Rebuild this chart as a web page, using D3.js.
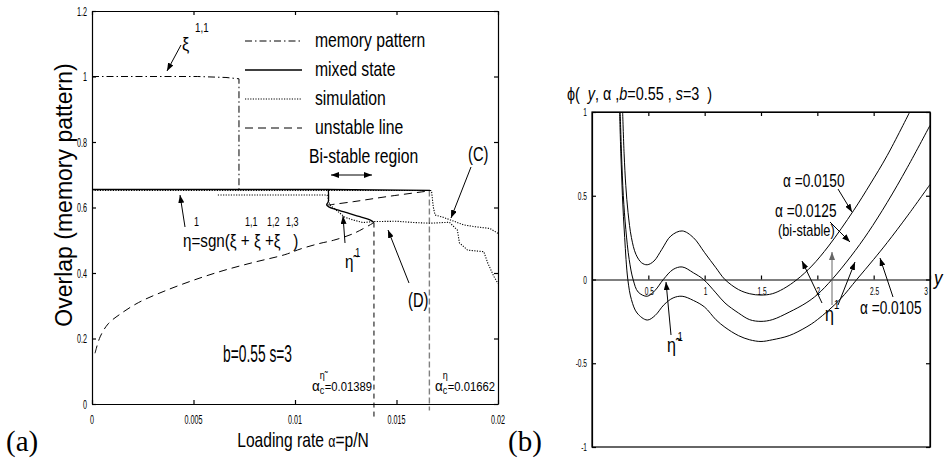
<!DOCTYPE html>
<html>
<head>
<meta charset="utf-8">
<script src="https://cdn.jsdelivr.net/npm/d3@7"></script>
<style>
  body { margin: 0; background: #fff; }
  svg text { font-family: "Liberation Sans", Arial, sans-serif; fill: #000; }
</style>
</head>
<body>
<svg id="fig" width="944" height="470"></svg>
<script>
// ---- panel (a): overlap vs loading rate ----
const alphaTicks = [0, 0.005, 0.01, 0.015, 0.02];
const alphaTickLabels = ["0", "0.005", "0.01", "0.015", "0.02"];
const overlapTicks = [0, 0.2, 0.4, 0.6, 0.8, 1, 1.2];
const overlapTickLabels = ["0", "0.2", "0.4", "0.6", "0.8", "1", "1.2"];

// [alpha, overlap]
const memoryPattern = [[0, 1.0], [0.0052, 1.0], [0.0066, 0.997], [0.00724, 0.993], [0.00724, 0.655]];
const mixedState = [[0, 0.655], [0.0116, 0.655], [0.01665, 0.652]];
const mixedStateTilde = [[0.01164, 0.655], [0.01164, 0.618], [0.01156, 0.608], [0.01169, 0.601], [0.01197, 0.595],
  [0.01255, 0.584], [0.0132, 0.572], [0.01369, 0.562], [0.01389, 0.554]];
const unstableLower = [[0.00015, 0.155], [0.0004, 0.205], [0.0008, 0.245], [0.0014, 0.275], [0.0023, 0.31],
  [0.0035, 0.343], [0.005, 0.378], [0.0065, 0.408], [0.008, 0.433], [0.0095, 0.456], [0.0103, 0.474],
  [0.0112, 0.49], [0.0119, 0.5], [0.0129, 0.521], [0.01389, 0.554]];
const unstableUpper = [[0.01156, 0.607], [0.0129, 0.618], [0.0145, 0.633], [0.01665, 0.651]];
const simulationA = [[0, 0.652], [0.0167, 0.652], [0.01673, 0.648], [0.01681, 0.602], [0.0169, 0.577],
  [0.0173, 0.57], [0.0177, 0.561], [0.0183, 0.547], [0.0189, 0.541], [0.0196, 0.536], [0.02, 0.521]];
const simulationB = [[0.0062, 0.638], [0.01158, 0.638], [0.01172, 0.608], [0.01246, 0.57], [0.01286, 0.562],
  [0.01335, 0.554], [0.01384, 0.557], [0.0150, 0.558], [0.0159, 0.554], [0.01665, 0.552], [0.0176, 0.555],
  [0.0180, 0.531], [0.0181, 0.492], [0.0185, 0.47], [0.0193, 0.465], [0.0195, 0.43], [0.0198, 0.389], [0.02, 0.368]];
const criticalAlpha = [0.01389, 0.01662];
const criticalTop = [0.554, 0.652];

// ---- panel (b): phi(y) for three loading rates ----
const yTicks = [0.5, 1, 1.5, 2, 2.5, 3];
const yTickLabels = ["0.5", "1", "1.5", "2", "2.5", "3"];
const phiTicks = [-1, -0.5, 0, 0.5, 1];
const phiTickLabels = ["-1", "-0.5", "0", "0.5", "1"];

// [y, phi]
const phi0150 = [[0.272, 1.0], [0.285, 0.75], [0.30, 0.56], [0.32, 0.4], [0.35, 0.25], [0.39, 0.15], [0.44, 0.1],
  [0.49, 0.088], [0.55, 0.11], [0.62, 0.18], [0.7, 0.26], [0.8, 0.29], [0.9, 0.25], [1.0, 0.16], [1.1, 0.07],
  [1.18, 0.0], [1.3, -0.06], [1.4, -0.085], [1.5, -0.093], [1.6, -0.085], [1.7, -0.055], [1.82, 0.0],
  [1.95, 0.08], [2.1, 0.2], [2.32, 0.41], [2.47, 0.57], [2.62, 0.74], [2.82, 1.0]];
const phi0125 = [[0.25, 1.0], [0.262, 0.75], [0.278, 0.5], [0.3, 0.3], [0.33, 0.12], [0.365, 0.0], [0.41, -0.075],
  [0.49, -0.1], [0.56, -0.065], [0.633, 0.0], [0.72, 0.06], [0.8, 0.075], [0.9, 0.04], [0.99, 0.0], [1.1, -0.08],
  [1.18, -0.14], [1.3, -0.2], [1.4, -0.24], [1.5, -0.25], [1.6, -0.24], [1.75, -0.195], [1.9, -0.14],
  [2.0, -0.09], [2.13, 0.0], [2.3, 0.14], [2.45, 0.28], [2.62, 0.46], [2.8, 0.67], [3.0, 0.92]];
const phi0105 = [[0.245, 1.0], [0.256, 0.75], [0.27, 0.5], [0.29, 0.25], [0.318, 0.0], [0.35, -0.12], [0.4, -0.2],
  [0.49, -0.242], [0.56, -0.215], [0.64, -0.15], [0.72, -0.11], [0.8, -0.1], [0.9, -0.125], [1.0, -0.165],
  [1.1, -0.24], [1.18, -0.285], [1.3, -0.335], [1.4, -0.36], [1.5, -0.37], [1.6, -0.36], [1.75, -0.335],
  [1.9, -0.285], [2.0, -0.24], [2.2, -0.12], [2.35, 0.0], [2.5, 0.12], [2.62, 0.22], [2.8, 0.38], [3.0, 0.567]];

const svg = d3.select("#fig");

// arrow heads
const defs = svg.append("defs");
defs.append("marker").attr("id", "ah")
  .attr("viewBox", "0 0 8 6").attr("refX", 8).attr("refY", 3)
  .attr("markerWidth", 8).attr("markerHeight", 6)
  .attr("markerUnits", "userSpaceOnUse").attr("orient", "auto-start-reverse")
  .append("path").attr("d", "M0,0L8,3L0,6Z").attr("fill", "#000");
defs.append("marker").attr("id", "ahg")
  .attr("viewBox", "0 0 8 6").attr("refX", 8).attr("refY", 3)
  .attr("markerWidth", 8).attr("markerHeight", 6)
  .attr("markerUnits", "userSpaceOnUse").attr("orient", "auto")
  .append("path").attr("d", "M0,0L8,3L0,6Z").attr("fill", "#666");

// text with sup/sub parts, squeezed horizontally like the narrow font of the original
function label(g, x, y, parts, o = {}) {
  const rot = o.rotate ? ` rotate(${o.rotate})` : "";
  const t = g.append("text")
    .attr("transform", `translate(${x},${y})${rot} scale(${o.sx ?? 0.82},1)`)
    .attr("font-size", o.size ?? 18)
    .attr("text-anchor", o.anchor ?? "start")
    .style("white-space", "pre");
  if (o.family) t.style("font-family", o.family);
  let cur = 0;
  [].concat(parts).forEach(p => {
    if (typeof p === "string") p = { t: p };
    const up = p.up ?? 0;
    const s = t.append("tspan").text(p.t).attr("dy", up - cur);
    cur = up;
    if (p.size) s.attr("font-size", p.size);
    if (p.it) s.attr("font-style", "italic");
    if (p.dx) s.attr("dx", p.dx);
  });
  return t;
}

function arrow(g, x1, y1, x2, y2, both, gray) {
  const l = g.append("line").attr("x1", x1).attr("y1", y1).attr("x2", x2).attr("y2", y2)
    .attr("stroke", gray ? "#666" : "#000").attr("stroke-width", 1)
    .attr("marker-end", gray ? "url(#ahg)" : "url(#ah)");
  if (both) l.attr("marker-start", "url(#ah)");
}

// ================= panel (a) =================
const xA = d3.scaleLinear([0, 0.02], [92, 498]);
const yA = d3.scaleLinear([0, 1.2], [404, 11]);
const gA = svg.append("g");

const axStyle = sel => sel.selectAll("path,line").attr("stroke", "#000").attr("stroke-width", 1.2);
gA.append("g").attr("transform", `translate(0,${yA(0)})`)
  .call(d3.axisBottom(xA).tickValues(alphaTicks).tickSize(-4).tickSizeOuter(0).tickFormat("")).call(axStyle);
gA.append("g").attr("transform", `translate(0,${yA(1.2)})`)
  .call(d3.axisTop(xA).tickValues(alphaTicks).tickSize(-4).tickSizeOuter(0).tickFormat("")).call(axStyle);
gA.append("g").attr("transform", `translate(${xA(0)},0)`)
  .call(d3.axisLeft(yA).tickValues(overlapTicks).tickSize(-4).tickSizeOuter(0).tickFormat("")).call(axStyle);
gA.append("g").attr("transform", `translate(${xA(0.02)},0)`)
  .call(d3.axisRight(yA).tickValues(overlapTicks).tickSize(-4).tickSizeOuter(0).tickFormat("")).call(axStyle);

alphaTicks.forEach((v, i) => label(gA, xA(v), 424, alphaTickLabels[i], { size: 12, sx: 0.6, anchor: "middle" }));
overlapTicks.forEach((v, i) => label(gA, 87, yA(v) + 4.5, overlapTickLabels[i], { size: 12, sx: 0.6, anchor: "end" }));

const lineA = d3.line().x(d => xA(d[0])).y(d => yA(d[1]));
const smoothA = d3.line().x(d => xA(d[0])).y(d => yA(d[1])).curve(d3.curveCatmullRom.alpha(0.5));

// critical alpha guides
criticalAlpha.forEach((a, i) => {
  gA.append("line").attr("x1", xA(a)).attr("x2", xA(a))
    .attr("y1", yA(criticalTop[i])).attr("y2", i === 0 ? yA(-0.05) : yA(-0.02))
    .attr("stroke", i === 0 ? "#000" : "#808080").attr("stroke-width", i === 0 ? 1 : 1.4)
    .attr("stroke-dasharray", i === 0 ? "5,4" : "6,3");
});

const styles = {
  dashdot: { dash: "7,3,1.5,3", w: 1 },
  solid: { dash: null, w: 1.3 },
  dotted: { dash: "1.2,1.4", w: 1.1 },
  dashed: { dash: "8,5", w: 1 }
};
function drawA(data, st, gen) {
  gA.append("path").attr("d", (gen || lineA)(data)).attr("fill", "none")
    .attr("stroke", "#000").attr("stroke-width", st.w).attr("stroke-dasharray", st.dash);
}
drawA(unstableLower, styles.dashed, smoothA);
drawA(unstableUpper, styles.dashed, smoothA);
drawA(simulationA, styles.dotted);
drawA(simulationB, styles.dotted);
drawA(memoryPattern, styles.dashdot);
drawA(mixedState, styles.solid);
drawA(mixedStateTilde, styles.solid, smoothA);

// legend
const legendItems = [["memory pattern", "dashdot"], ["mixed state", "solid"], ["simulation", "dotted"], ["unstable line", "dashed"]];
legendItems.forEach(([name, st], i) => {
  const ly = 41 + i * 29;
  gA.append("line").attr("x1", 245).attr("x2", 302).attr("y1", ly).attr("y2", ly)
    .attr("stroke", "#000").attr("stroke-width", styles[st].w).attr("stroke-dasharray", styles[st].dash);
  label(gA, 315, ly + 6, name, { size: 21, sx: 0.75 });
});
label(gA, 309, 163, "Bi-stable region", { size: 21, sx: 0.75 });
arrow(gA, 331, 175, 372, 175, true);

// annotations
label(gA, 182, 50, "ξ", { size: 19, sx: 0.85 });
label(gA, 195, 32, "1,1", { size: 13, sx: 0.75 });
arrow(gA, 181, 45, 167, 71);
label(gA, 183, 247, "η=sgn(ξ + ξ +ξ   )", { size: 19, sx: 0.8 });
[[194, "1"], [245, "1,1"], [267, "1,2"], [286, "1,3"]].forEach(([x, s]) => label(gA, x, 226, s, { size: 12, sx: 0.75 }));
arrow(gA, 185, 227, 180, 195);
label(gA, 345, 268, ["η\u0303", { t: "1", up: -11, size: 12, dx: 2 }], { size: 19, sx: 0.8 });
arrow(gA, 345, 243, 343, 216);
label(gA, 468, 161, "(C)", { size: 21, sx: 0.7 });
arrow(gA, 471, 167, 451, 218);
label(gA, 408, 307, "(D)", { size: 21, sx: 0.7 });
arrow(gA, 409, 283, 388, 230);
label(gA, 223, 362, "b=0.55 s=3", { size: 23, sx: 0.6 });
label(gA, 312, 391, ["α", { t: "c", up: 3, size: 10 }, { t: "η\u0303", up: -12, size: 10, dx: -5 },
  { t: "=0.01389", up: 0, size: 12.5 }], { size: 15, sx: 0.9 });
label(gA, 435, 391, ["α", { t: "c", up: 3, size: 10 }, { t: "η", up: -12, size: 10, dx: -5 },
  { t: "=0.01662", up: 0, size: 12.5 }], { size: 15, sx: 0.9 });

label(gA, 303, 447, ["Loading rate ", { t: "α", size: 16 }, "=p/N"], { size: 20, sx: 0.78, anchor: "middle" });
label(gA, 72, 195, "Overlap (memory pattern)", { size: 23, sx: 1, rotate: -90, anchor: "middle" });
label(svg, 6, 451, "(a)", { size: 29, sx: 1, family: "'Liberation Serif', 'DejaVu Serif', serif" });
label(svg, 508, 451, "(b)", { size: 29, sx: 1, family: "'Liberation Serif', 'DejaVu Serif', serif" });

// ================= panel (b) =================
const xB = d3.scaleLinear([0, 3], [592, 930]);
const yB = d3.scaleLinear([-1, 1], [447, 112]);
const gB = svg.append("g");

gB.append("clipPath").attr("id", "clipB").append("rect")
  .attr("x", xB(0)).attr("y", yB(1)).attr("width", xB(3) - xB(0)).attr("height", yB(-1) - yB(1));

gB.append("rect").attr("x", xB(0)).attr("y", yB(1)).attr("width", xB(3) - xB(0)).attr("height", yB(-1) - yB(1))
  .attr("fill", "none").attr("stroke", "#000").attr("stroke-width", 1.2);
gB.append("g").attr("transform", `translate(0,${yB(0)})`)
  .call(d3.axisBottom(xB).tickValues(yTicks).tickSize(-4).tickSizeOuter(0).tickFormat("")).call(axStyle);
gB.append("g").attr("transform", `translate(0,${yB(1)})`)
  .call(d3.axisTop(xB).tickValues(yTicks.slice(0, 5)).tickSize(-4).tickSizeOuter(0).tickFormat("")).call(axStyle);
gB.append("g").attr("transform", `translate(${xB(0)},0)`)
  .call(d3.axisLeft(yB).tickValues(phiTicks).tickSize(-4).tickSizeOuter(0).tickFormat("")).call(axStyle);
gB.append("g").attr("transform", `translate(${xB(3)},0)`)
  .call(d3.axisRight(yB).tickValues(phiTicks).tickSize(-4).tickSizeOuter(0).tickFormat("")).call(axStyle);

yTicks.forEach((v, i) => label(gB, xB(v) + (v === 3 ? -4 : 1), yB(0) + 15.5, yTickLabels[i], { size: 11, sx: 0.6, anchor: "middle" }));
phiTicks.forEach((v, i) => label(gB, 587, yB(v) + 4, phiTickLabels[i], { size: 11, sx: 0.6, anchor: "end" }));

const lineB = d3.line().x(d => xB(d[0])).y(d => yB(d[1])).curve(d3.curveCatmullRom.alpha(0.5));
[phi0150, phi0125, phi0105].forEach(data => {
  gB.append("path").attr("d", lineB(data)).attr("fill", "none").attr("stroke", "#000")
    .attr("stroke-width", 1).attr("clip-path", "url(#clipB)");
});

label(gB, 567, 100, ["ϕ(  ", { t: "y", it: true }, ", α ,", { t: "b", it: true }, "=0.55 , ", { t: "s", it: true }, "=3  )"], { size: 18, sx: 0.8 });
label(gB, 934, 285, { t: "y", it: true }, { size: 20, sx: 0.85 });
label(gB, 783, 187, "α =0.0150", { size: 19, sx: 0.72 });
arrow(gB, 838, 189, 852, 212);
label(gB, 775, 217, "α =0.0125", { size: 19, sx: 0.72 });
label(gB, 778, 236, "(bi-stable)", { size: 17, sx: 0.75 });
arrow(gB, 830, 222, 850, 242);
label(gB, 860, 314, "α =0.0105", { size: 19, sx: 0.72 });
arrow(gB, 893, 297, 880, 258);
label(gB, 825, 321, ["η", { t: "1", up: -12, size: 12 }], { size: 20, sx: 0.8 });
arrow(gB, 822, 303, 802, 261);
arrow(gB, 832, 305, 832, 252, false, true);
arrow(gB, 838, 305, 855, 262);
label(gB, 667, 352, ["η\u0303", { t: "1", up: -11, size: 12, dx: 2 }], { size: 20, sx: 0.8 });
arrow(gB, 671, 335, 666, 282);
</script>
</body>
</html>
